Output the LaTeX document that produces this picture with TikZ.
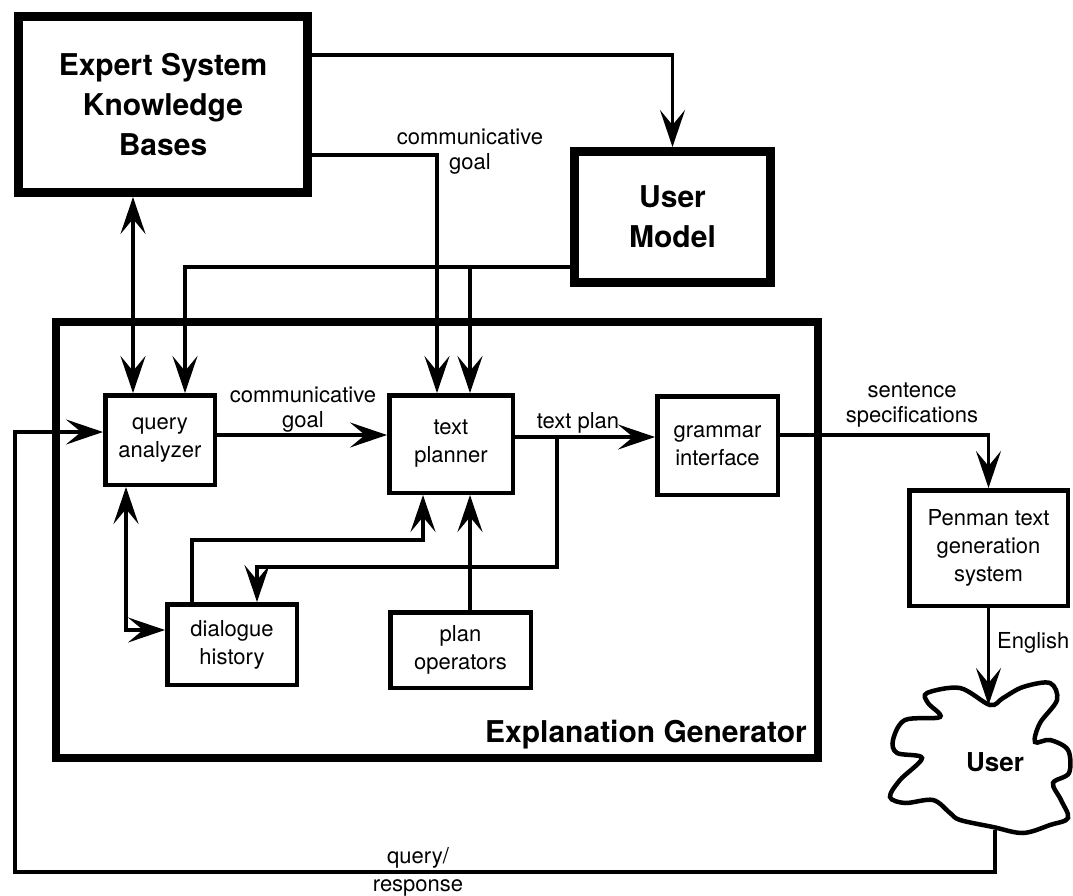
\documentclass[tikz,border=0pt]{standalone}
\usepackage{fontspec}
\setmainfont{TeX Gyre Heros}
\usetikzlibrary{arrows.meta,calc}
\newcommand{\boxfont}{\fontsize{22}{28}\selectfont}
\newcommand{\lblfont}{\fontsize{22}{25}\selectfont}
\newcommand{\bigfont}{\fontsize{30}{40}\selectfont\bfseries}

\begin{document}
\begin{tikzpicture}[
  x=1pt, y=-1pt,
  block/.style={draw, line width=4.5pt, inner sep=0pt, align=center, font=\boxfont},
  bigblock/.style={draw, line width=9pt, inner sep=0pt, align=center, font=\bigfont},
  lbl/.style={inner sep=0pt, align=center, font=\lblfont},
  link/.style={line width=3.5pt},
  >={Stealth[length=37pt,width=25pt,inset=15pt]}
]
  \useasboundingbox (0,0) rectangle (1073,896);

  \node[draw, line width=8pt, minimum width=762pt, minimum height=436pt] (eg) at (437,540) {};
  \node[font=\bigfont, anchor=base east, inner sep=0pt] (eglbl) at (807,742) {Explanation Generator};

  \node[bigblock, minimum width=289pt, minimum height=176pt] (eskb) at (163,104.5) {Expert System\\Knowledge\\Bases};
  \node[bigblock, minimum width=196pt, minimum height=131pt] (um) at (672.5,217) {User\\Model};

  \node[block, minimum width=109.5pt, minimum height=89.5pt] (qa) at (160,440) {query\\analyzer};
  \node[block, minimum width=123.5pt, minimum height=97.5pt] (tp) at (451,444) {text\\planner};
  \node[block, minimum width=120.5pt, minimum height=98.5pt] (gi) at (717.5,445.5) {grammar\\interface};
  \node[block, minimum width=129.5pt, minimum height=80.5pt] (dh) at (232,644.5) {dialogue\\history};
  \node[block, minimum width=140.5pt, minimum height=75.5pt] (po) at (460.5,650) {plan\\operators};
  \node[block, minimum width=158.5pt, minimum height=115.5pt] (pen) at (988.5,548) {Penman text\\generation\\system};

  \draw[line width=4.5pt] plot[smooth cycle, tension=0.55] coordinates {
    (990,705) (960,688) (927,693) (928,703) (940,717) (905,720) (893,740)
    (897,753) (922,758) (900,780) (890,797) (905,803) (933,800) (950,813)
    (960,820) (993,827) (1023,833) (1050,825) (1068,818) (1061,800) (1053,783)
    (1069,773) (1068,750) (1050,740) (1035,742) (1040,723) (1057,700)
    (1050,683) (1023,687) (1003,698)};
  \node[font=\fontsize{26}{30}\selectfont\bfseries] (user) at (995,762) {User};
  \coordinate (usertop) at (988.5,705);
  \coordinate (userbot) at (995,830);

  \coordinate (qain1) at ([xshift=-27pt]qa.north);
  \coordinate (qain2) at ([xshift=25pt]qa.north);
  \coordinate (tpin1) at ([xshift=-14pt]tp.north);
  \coordinate (tpin2) at ([xshift=19pt]tp.north);
  \coordinate (tpin3) at ([xshift=-28pt]tp.south);
  \coordinate (tpin4) at ([xshift=19pt]tp.south);
  \coordinate (umout) at ([yshift=-50pt]um.west);
  \coordinate (qaout) at ([yshift=5pt]qa.east);
  \coordinate (tpout) at ([yshift=7pt]tp.east);
  \coordinate (tpsplit) at ([xshift=42pt,yshift=7pt]tp.east);
  \coordinate (dhin) at ([xshift=25pt]dh.north);
  \coordinate (qain) at ([yshift=8pt]qa.west);
  \coordinate (fbcorner) at (15,872);

  \draw[link,->] ([yshift=49.5pt]eskb.east) -| (um.north);
  \draw[link,->] ([yshift=-50.5pt]eskb.east) -| (tpin1);
  \node[lbl] (cglbl) at (470,152) {communicative\\goal};
  \draw[link,->] (umout) -| (qain2);
  \draw[link,->] (tpin2 |- umout) -- (tpin2);
  \draw[link,<->] (qain1 |- eskb.south) -- (qain1);

  \draw[link,->] (qaout) -- (qaout -| tp.west);
  \node[lbl] (qalbl) at (303,410) {communicative\\goal};
  \draw[link,->] (tpout) -- (tpout -| gi.west);
  \node[lbl, anchor=base] (tplbl) at (578,428) {text plan};
  \draw[link,->] (tpsplit) -- ++(0,130) -| (dhin);
  \draw[link,->] ([xshift=-40pt]dh.north) -- ++(0,-62) -| (tpin3);
  \draw[link,->] (tpin4 |- po.north) -- (tpin4);
  \draw[link,<->] ([xshift=-34pt]qa.south) |- ([yshift=14.5pt]dh.west);

  \draw[link,->] ([yshift=10.5pt]gi.east) -| (pen.north);
  \node[lbl] (sslbl) at (912,405) {sentence\\specifications};
  \draw[link,->] (pen.south) -- (usertop);
  \node[lbl, anchor=west] (enlbl) at (997,643) {English};

  \draw[link,->] (userbot) |- (fbcorner) |- (qain);
  \node[lbl, anchor=base] (qlbl) at (418,863) {query/};
  \node[lbl, anchor=base] (rlbl) at (418,891) {response};
\end{tikzpicture}
\end{document}
